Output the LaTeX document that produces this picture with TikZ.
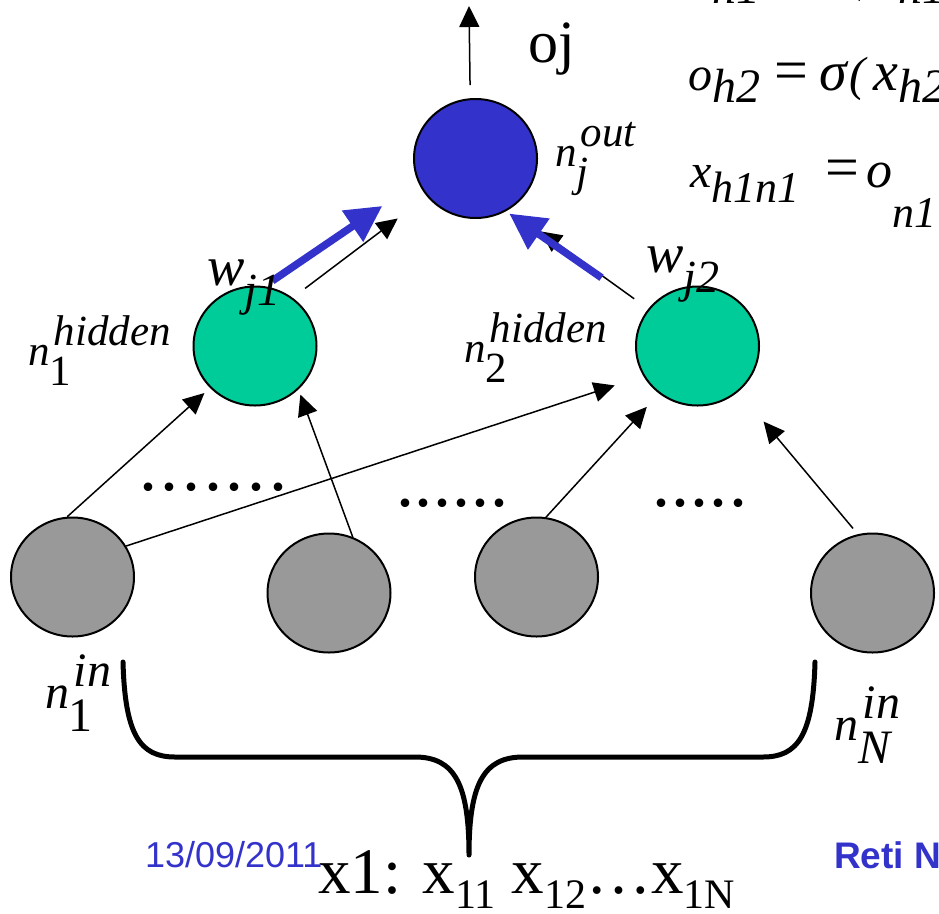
\documentclass[tikz,border=0pt]{standalone}
\usepackage{fontspec}
\setmainfont{Liberation Serif}
\newfontfamily\arialf{Liberation Sans}
\usetikzlibrary{arrows.meta,shapes.geometric}
\definecolor{nblue}{RGB}{51,51,204}
\definecolor{ngreen}{RGB}{0,204,153}
\definecolor{ngray}{RGB}{153,153,153}
\newcommand\fs[1]{\fontsize{#1}{#1}\selectfont}
\newcommand\nlab[4]{{\fs{#1}\itshape #2\rlap{\hspace{0.1em}\raisebox{0.45em}{#3}}\raisebox{-0.48em}{#4}}}
\newcommand\lsub[3]{\raisebox{-#2}{\fs{#1}#3}}
\newcommand\dg[1]{.\hspace{#1}}
\newcommand\beq{{\fs{60}\upshape =}}
\begin{document}
\begin{tikzpicture}[x=1pt,y=-1pt,
 neuron/.style={ellipse, draw=black, line width=2pt, minimum width=123pt, minimum height=119pt, inner sep=0pt},
 arr/.style={line width=1.5pt, -{Triangle[length=21pt,width=20pt]}},
 barr/.style={line width=7.5pt, draw=nblue, -{Triangle[length=36pt,width=36pt]}},
 txt/.style={anchor=base west, inner sep=0pt, outer sep=0pt},
]
\useasboundingbox (0,0) rectangle (939,913);
\clip (0,0) rectangle (939,913);

% neurons
\node[neuron, fill=nblue] (out) at (475.5,158.5) {};
\node[neuron, fill=ngreen] (h1) at (255,346) {};
\node[neuron, fill=ngreen] (h2) at (697.5,346) {};
\node[neuron, fill=ngray] (i1) at (72.5,577) {};
\node[neuron, fill=ngray] (i2) at (329,593) {};
\node[neuron, fill=ngray] (i3) at (536.5,577) {};
\node[neuron, fill=ngray] (i4) at (872.5,593) {};

% connections
\draw[arr, shorten >=7.5pt] (i1.95) -- (h1.223);
\draw[arr, shorten >=30pt] (i1.30) -- (h2.209);
\draw[arr, shorten >=5.5pt] (i2.67) -- (h1.315);
\draw[arr, shorten >=18pt] (i3.81) -- (h2.231);
\draw[arr, shorten <=7.5pt, shorten >=39pt] (i4.104) -- (h2.312);
\draw[arr, shorten <=15.5pt, shorten >=36.5pt] (h1.52) -- (out.218);
\draw[arr, shorten <=17.3pt, shorten >=38pt] (h2.143) -- (out.304);
\draw[barr, shorten <=9.5pt, shorten >=43pt] (h1.81) -- (out.202);
\draw[barr, shorten <=56pt, shorten >=4pt] (h2.144) -- (out.300);
\coordinate (top) at (469,6);
\draw[arr, shorten <=13pt] (out.95) -- (top);

% brace
\draw[line width=5pt, line cap=round, line join=round]
 (123,662) .. controls (125,735) and (140,757) .. (175,757) -- (415,757)
 .. controls (455,757) and (469,785) .. (469,855)
 .. controls (469,785) and (483,757) .. (523,757) -- (763,757)
 .. controls (798,757) and (813,735) .. (815,662);

% dots
\node[txt] (d1) at (139,490.6) {\fs{72}\dg{3.7pt}\dg{3.7pt}\dg{3.7pt}\dg{3.7pt}\dg{3.7pt}\dg{3.7pt}.};
\node[txt] (d2) at (396,506.6) {\fs{72}\dg{1pt}\dg{1pt}\dg{1pt}\dg{1pt}\dg{1pt}.};
\node[txt] (d3) at (652,506.6) {\fs{72}\dg{1.3pt}\dg{1.3pt}\dg{1.3pt}\dg{1.3pt}.};

% labels
\node[txt] (oj) at (528,62) {\fs{60}oj};
\node[txt] (lout) at (555,166) {\nlab{43}{n}{out}{j}};
\node[txt] (lh1) at (28,365) {\nlab{43}{n}{hidden}{\upshape 1}};
\node[txt] (lh2) at (464,362) {\nlab{43}{n}{hidden}{\upshape 2}};
\node[txt] (lin1) at (45,708) {\nlab{48}{n}{in}{\upshape 1}};
\node[txt] (linN) at (834,740) {\nlab{48}{n}{in}{N}};
\node[txt] (wj1) at (207,285) {\fs{56}\itshape w\lsub{46}{20pt}{j1}};
\node[txt] (wj2) at (646,272) {\fs{56}\itshape w\lsub{46}{20pt}{j2}};

% formulas
\node[txt] (f1) at (688,-9) {\fs{48}\itshape o\lsub{48}{12pt}{h1}\hspace{14pt}\beq\hspace{12pt}{\fs{56}σ}\hspace{2pt}(\hspace{8pt}{\fs{56}x}\lsub{48}{12pt}{h1}};
\node[txt] (f2) at (688,90) {\fs{48}\itshape o\lsub{48}{12pt}{h2}\hspace{14pt}\beq\hspace{12pt}{\fs{56}σ}\hspace{2pt}(\hspace{8pt}{\fs{56}x}\lsub{48}{12pt}{h2}};
\node[txt] (f3) at (690,187) {\fs{48}\itshape x\lsub{44}{15pt}{h1n1}\hspace{26pt}\beq\hspace{7pt}{\fs{52}o}\lsub{44}{40pt}{n1}};

% bottom
\node[txt] (xin) at (318,893) {\fs{65}x1: x\lsub{42}{15pt}{11} x\lsub{42}{15pt}{12}…x\lsub{42}{15pt}{1N}};
\node[txt, text=nblue] (date) at (145,867) {\arialf\fs{36}13/09/2011};
\node[txt, text=nblue] (reti) at (834,868) {\arialf\bfseries\fs{37}Reti N};
\end{tikzpicture}
\end{document}
